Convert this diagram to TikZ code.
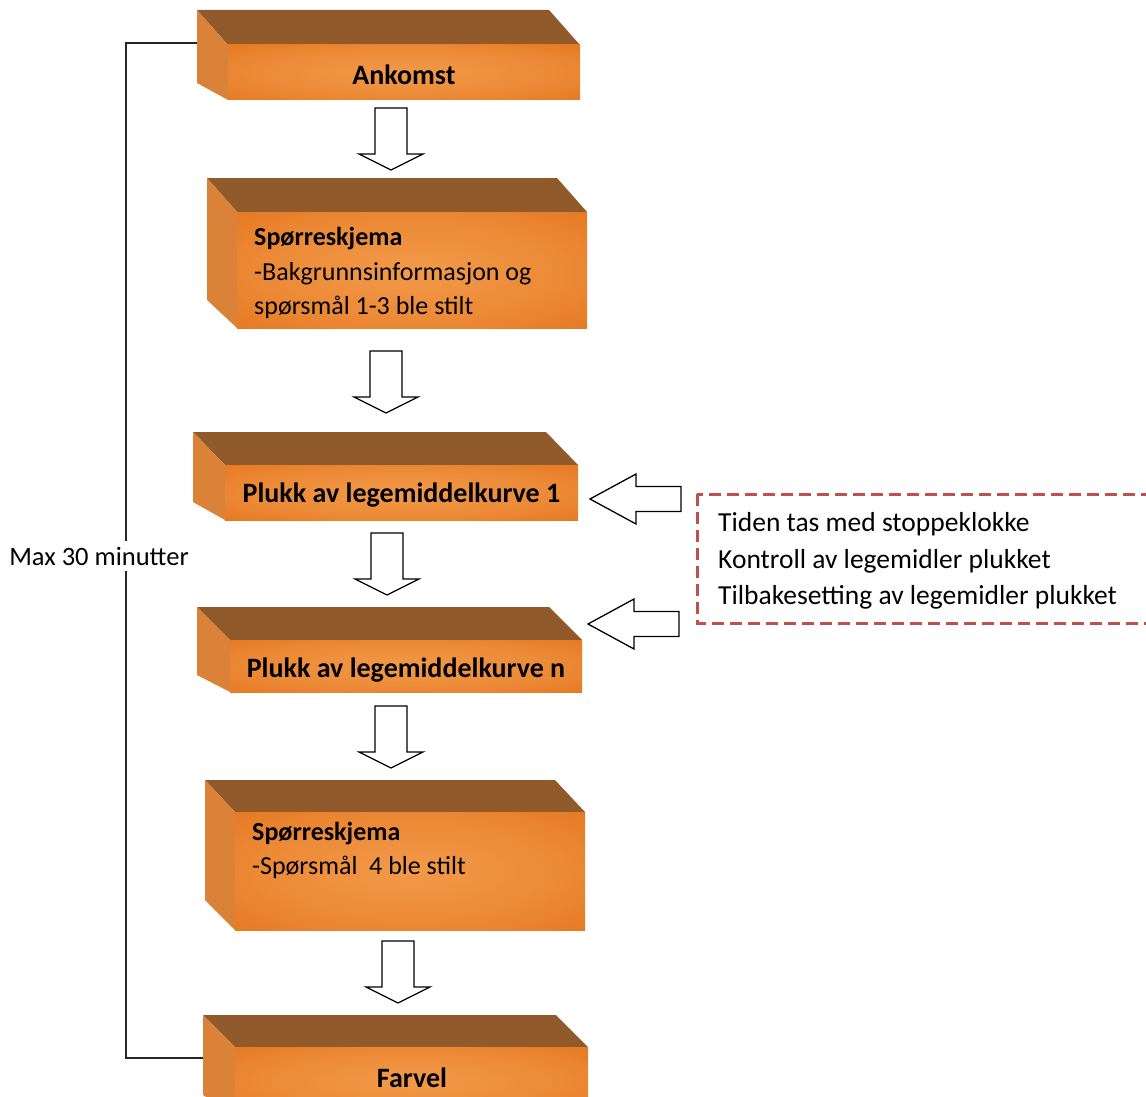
\documentclass[tikz,border=0pt]{standalone}
\usepackage{fontspec}
\setmainfont{Carlito}
\definecolor{topc}{HTML}{915A2B}
\definecolor{sidec}{HTML}{DA8238}
\definecolor{frontdark}{HTML}{E06A10}
\definecolor{frontlight}{HTML}{F29A4A}
\definecolor{dashred}{HTML}{C0504D}
\pgfdeclareradialshading{boxglow}{\pgfpoint{0bp}{0bp}}{color(0bp)=(frontlight); color(22bp)=(frontlight!65!frontdark); color(50bp)=(frontdark)}
\newcommand\blokk[8]{% #1 name, #2 xl, #3 yt, #4 xf0, #5 yf0, #6 xf1, #7 yf1, #8 side bottom
  \fill[topc] (#2,#3) -- ({#6-(#4-#2)},#3) -- (#6,#5) -- (#4,#5) -- cycle;
  \fill[sidec] (#2,#3) -- (#4,#5) -- (#4,#7) -- (#2,#8) -- cycle;
  \path[shading=boxglow] (#4,#5) rectangle (#6,#7);
  \coordinate (#1) at ({(#4+#6)/2},{(#5+#7)/2});
}
\tikzset{
  blockarrow/.style={draw=black, fill=white, line width=1.3pt, line join=miter},
  downarr/.pic={\path[blockarrow] (-16,0) -- (16,0) -- (16,46) -- (32,46) -- (0,62) -- (-32,46) -- (-16,46) -- cycle;},
  leftarr/.pic={\path[blockarrow] (0,0) -- (46,-25) -- (46,-12.5) -- (91,-12.5) -- (91,12.5) -- (46,12.5) -- (46,25) -- cycle;},
  boxtitle/.style={font=\fontsize{28}{32}\selectfont\bfseries, text=black, inner sep=0pt},
  boxtext/.style={font=\fontsize{26}{34.5}\selectfont, text=black, inner sep=0pt, align=left, anchor=west},
  notetext/.style={font=\fontsize{27.5}{36.5}\selectfont, text=black, inner sep=0pt, align=left, anchor=west},
  bracket/.style={draw=black!85, line width=1.4pt},
  notebox/.style={draw=dashred, line width=3pt, dash pattern=on 12pt off 6pt}
}
\begin{document}
\begin{tikzpicture}[x=1pt,y=-1pt]
\useasboundingbox (0,0) rectangle (1146,1097);
\begin{scope}
\clip (0,0) rectangle (1146,1097);
% bracket
\coordinate (brTop) at (199,43);
\coordinate (brBot) at (206,1058);
\node[font=\fontsize{26.5}{30}\selectfont, fill=white, inner xsep=1pt, inner ysep=6pt] (maxlbl) at (99,556) {Max 30 minutter};
\draw[bracket] (brTop) -- (126,43) -- (maxlbl.north -| 126,0);
\draw[bracket] (maxlbl.south -| 126,0) -- (126,1058) -- (brBot);
% boxes
\blokk{b1}{197}{10}{228}{45}{580}{100}{83}
\blokk{b2}{207}{178}{237}{212}{587}{328}{300}
\blokk{b3}{193}{432}{225}{465}{578}{520}{502}
\blokk{b4}{197}{607}{230}{640}{582}{692}{675}
\blokk{b5}{205}{780}{235}{812}{585}{930}{900}
\blokk{b6}{203}{1015}{235}{1047}{588}{1115}{1095}
% texts
\node[boxtitle] (t1) at ([yshift=-2.5]b1) {Ankomst};
\node[boxtext] (t2) at (254,273) {\textbf{Spørreskjema}\\-Bakgrunnsinformasjon og\\spørsmål 1-3 ble stilt};
\node[boxtitle] (t3) at ([yshift=-3]b3) {Plukk av legemiddelkurve 1};
\node[boxtitle] (t4) at ([yshift=-4]b4) {Plukk av legemiddelkurve n};
\node[boxtext, anchor=north west] (t5) at (252,822) {\textbf{Spørreskjema}\\-Spørsmål\ \ 4 ble stilt};
\node[boxtitle] (t6) at (412,1078) {Farvel};
% down arrows
\pic (a1) at (391,108) {downarr};
\pic (a2) at (386,351) {downarr};
\pic (a3) at (387,533) {downarr};
\pic (a4) at (391,706) {downarr};
\pic (a5) at (398,941) {downarr};
% note
\draw[notebox] (697,494) rectangle (1165,623);
\node[notetext] (note) at (718,561) {Tiden tas med stoppeklokke\\Kontroll av legemidler plukket\\Tilbakesetting av legemidler plukket};
\pic (l1) at (590,499) {leftarr};
\pic (l2) at (588,624) {leftarr};
\end{scope}
\end{tikzpicture}
\end{document}
